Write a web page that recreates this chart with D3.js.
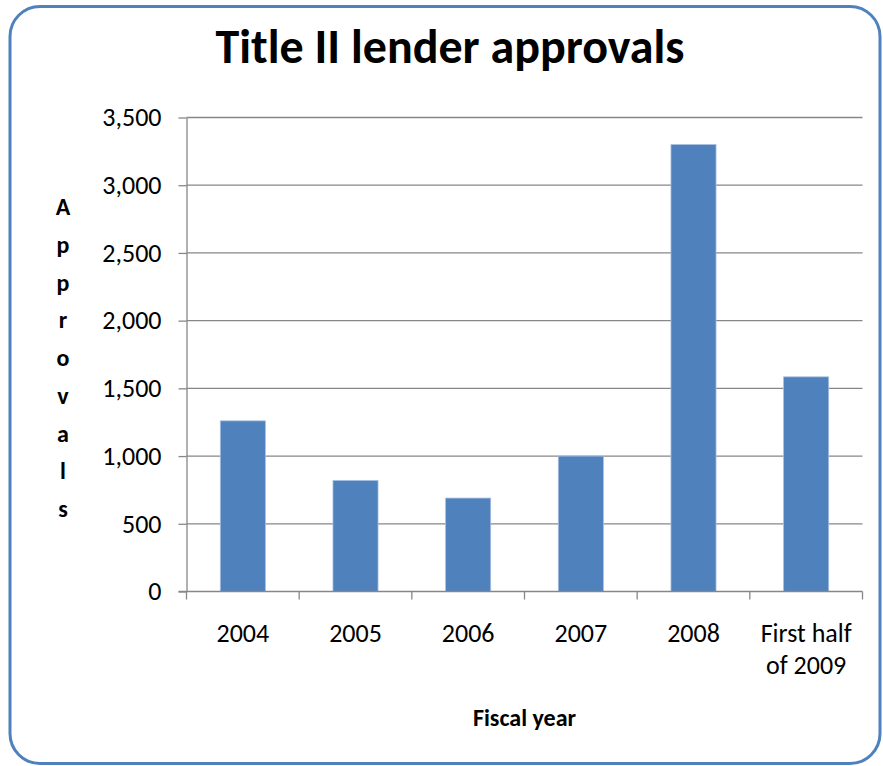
<!DOCTYPE html>
<html>
<head>
<meta charset="utf-8">
<script src="https://cdn.jsdelivr.net/npm/d3@7"></script>
<style>
  body { margin: 0; background: #fff; }
  svg { display: block; font-family: Carlito, Calibri, Lato, sans-serif; }
</style>
</head>
<body>
<svg id="chart"></svg>
<script>
// chart data
const categories = ['2004', '2005', '2006', '2007', '2008', 'First half of 2009'];
const approvals = [1260, 820, 690, 1000, 3300, 1585];
const yTicks = [0, 500, 1000, 1500, 2000, 2500, 3000, 3500];
const titleText = 'Title II lender approvals';
const xTitle = 'Fiscal year';
const yTitle = 'Approvals';

const width = 883;
const height = 766;
const margin = { top: 117.5, right: 20.5, bottom: 174.5, left: 186.5 };
const innerW = width - margin.left - margin.right;
const innerH = height - margin.top - margin.bottom;

const svg = d3.select('#chart')
  .attr('width', width)
  .attr('height', height);

// outer rounded frame
svg.append('rect')
  .attr('x', 10)
  .attr('y', 6.5)
  .attr('width', 870)
  .attr('height', 757)
  .attr('rx', 30)
  .attr('fill', '#fff')
  .attr('stroke', '#4f81bd')
  .attr('stroke-width', 3);

const g = svg.append('g')
  .attr('transform', `translate(${margin.left},${margin.top})`);

const x = d3.scaleBand()
  .domain(categories)
  .range([0, innerW])
  .paddingInner(0.6)
  .paddingOuter(0.3);

const y = d3.scaleLinear()
  .domain([0, 3500])
  .range([innerH, 0]);

// gridlines
g.selectAll('.grid')
  .data(yTicks.filter(d => d > 0))
  .enter()
  .append('line')
  .attr('x1', 0)
  .attr('x2', innerW)
  .attr('y1', d => y(d))
  .attr('y2', d => y(d))
  .attr('stroke', '#878787')
  .attr('stroke-width', 1.3);

// bars
g.selectAll('.bar')
  .data(approvals)
  .enter()
  .append('rect')
  .attr('x', (d, i) => x(categories[i]))
  .attr('y', d => y(d))
  .attr('width', x.bandwidth())
  .attr('height', d => innerH - y(d))
  .attr('fill', '#4f81bd')
  .attr('stroke', '#a7bfdf')
  .attr('stroke-width', 0.8);

// y axis
const yAxis = g.append('g')
  .call(d3.axisLeft(y).tickValues(yTicks).tickFormat(d3.format(',')).tickSize(8).tickSizeOuter(0));
yAxis.attr('font-family', null).attr('font-size', null);
yAxis.select('.domain').attr('stroke', '#878787').attr('stroke-width', 1.3);
yAxis.selectAll('.tick line').attr('stroke', '#878787').attr('stroke-width', 1.3);
yAxis.selectAll('.tick text')
  .attr('x', -25)
  .attr('dy', '0.32em')
  .attr('fill', '#000')
  .style('font-size', '26px');

// x axis with ticks on band boundaries
const xAxis = g.append('g')
  .attr('transform', `translate(0,${innerH})`);
xAxis.append('line')
  .attr('x1', -8).attr('x2', innerW)
  .attr('stroke', '#878787').attr('stroke-width', 1.3);
const boundaries = categories.map(c => x(c) - x.step() * x.paddingInner() / 2)
  .concat([innerW]);
xAxis.selectAll('.xtick')
  .data(boundaries)
  .enter()
  .append('line')
  .attr('x1', d => d).attr('x2', d => d)
  .attr('y1', 0).attr('y2', 8)
  .attr('stroke', '#878787').attr('stroke-width', 1.3);

const xLabels = xAxis.selectAll('.xlabel')
  .data(categories)
  .enter()
  .append('text')
  .attr('x', d => x(d) + x.bandwidth() / 2)
  .attr('y', 50)
  .attr('text-anchor', 'middle')
  .style('font-size', '26px');
xLabels.each(function(d) {
  const t = d3.select(this);
  const parts = d === 'First half of 2009' ? ['First half', 'of 2009'] : [d];
  parts.forEach((p, i) => {
    t.append('tspan')
      .attr('x', x(d) + x.bandwidth() / 2)
      .attr('dy', i === 0 ? 0 : 32)
      .text(p);
  });
});

// titles
svg.append('text')
  .attr('x', 450)
  .attr('y', 63)
  .attr('text-anchor', 'middle')
  .style('font-size', '48px')
  .style('font-weight', 'bold')
  .text(titleText);

svg.append('text')
  .attr('x', margin.left + innerW / 2)
  .attr('y', 726)
  .attr('text-anchor', 'middle')
  .style('font-size', '24px')
  .style('font-weight', 'bold')
  .text(xTitle);

svg.append('text')
  .attr('text-anchor', 'middle')
  .style('font-size', '24px')
  .style('font-weight', 'bold')
  .selectAll('tspan')
  .data(yTitle.split(''))
  .enter()
  .append('tspan')
  .attr('x', 63)
  .attr('y', (d, i) => 215 + i * 37.75)
  .text(d => d);
</script>
</body>
</html>
